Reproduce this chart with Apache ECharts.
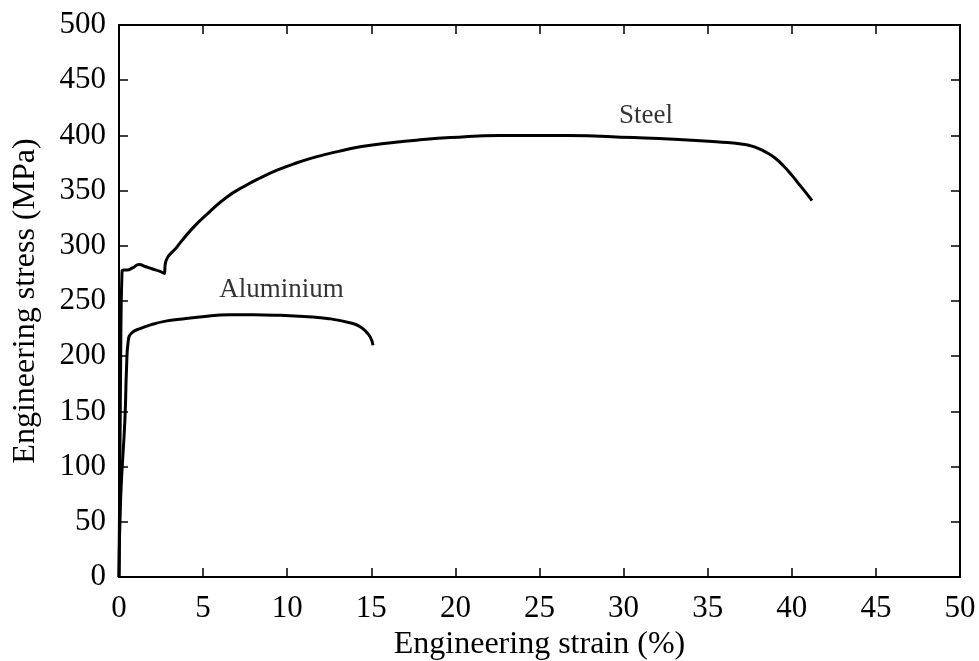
<!DOCTYPE html>
<html>
<head>
<meta charset="utf-8">
<script src="https://cdn.jsdelivr.net/npm/echarts@6/dist/echarts.min.js"></script>
<style>
  html, body { margin: 0; padding: 0; background: #fff; }
  #chart { width: 979px; height: 661px; }
</style>
</head>
<body>
<div id="chart"></div>
<script>
// 钢的应力-应变曲线 (strain %, stress MPa)
const steelStrain = [0, 0.1, 0.18, 0.3, 0.5, 0.8, 1.2, 1.6, 2.0, 2.4, 2.7, 2.75, 3.5, 4.42, 5.4, 6.4, 7.4, 8.38, 9.4, 10.36, 11.35, 12.35, 13.35, 14.33, 16.3, 17.9, 19.7, 22.65, 26.6, 30.6, 33.0, 35.5, 36.5, 37.0, 37.5, 38.0, 38.5, 39.0, 39.5, 40.0, 40.5, 41.0, 41.2];
const steelStress = [0, 200, 277, 278, 278, 280, 283, 281, 279, 277, 275, 283.6, 300, 316.7, 331, 344, 353.5, 361.4, 368.5, 374, 379, 383, 386.5, 389.7, 393.6, 396, 398, 400, 400, 398, 396.5, 394.2, 393.2, 392.3, 390.8, 388.3, 384.5, 379.5, 372.5, 364, 354.5, 345, 341];

// 铝的应力-应变曲线
const aluStrain = [0, 0.1, 0.35, 0.45, 0.55, 0.75, 1.25, 2.0, 2.85, 3.6, 4.8, 6.6, 8.0, 9.6, 11.0, 12.5, 13.9, 14.4, 14.7, 14.95, 15.1];
const aluStress = [0, 72, 142, 190, 214, 221, 225, 229, 232, 233.5, 235.5, 237.5, 237.5, 237, 236, 234, 229.6, 226, 222, 217, 210];

// 曲线标注
const labelNames = ['Steel', 'Aluminium'];
const labelStrain = [31.33, 9.66];
const labelStress = [418, 260];

// 坐标轴刻度
const xTicks = [0, 5, 10, 15, 20, 25, 30, 35, 40, 45, 50];
const yTicks = [0, 50, 100, 150, 200, 250, 300, 350, 400, 450, 500];

const font = '"Liberation Serif", "DejaVu Serif", serif';

function pairs(xs, ys) {
    return xs.map(function (x, i) { return [x, ys[i]]; });
}

const chart = echarts.init(document.getElementById('chart'));

const axisLineStyle = { color: '#000', width: 2 };
const tickStyle = { color: '#000', width: 1.5 };

// 坐标轴公共配置
function axis(extra) {
    return Object.assign({
        type: 'value',
        axisLine: { show: true, onZero: false, lineStyle: axisLineStyle },
        axisTick: { show: true, inside: true, length: 9, lineStyle: tickStyle },
        splitLine: { show: false }
    }, extra);
}

const chartOption = {
    animation: false,
    grid: {
        left: 119,
        top: 25,
        right: 19,
        bottom: 84,
        containLabel: false,
        outerBoundsMode: 'none'
    },
    xAxis: [
        axis({
            min: xTicks[0],
            max: xTicks[xTicks.length - 1],
            interval: 5,
            name: 'Engineering strain (%)',
            nameLocation: 'middle',
            nameGap: 52,
            nameTextStyle: { fontFamily: font, fontSize: 32, color: '#000' },
            axisLabel: { fontFamily: font, fontSize: 31, color: '#000', margin: 16 }
        }),
        axis({
            position: 'top',
            min: xTicks[0],
            max: xTicks[xTicks.length - 1],
            interval: 5,
            axisLabel: { show: false }
        })
    ],
    yAxis: [
        axis({
            min: yTicks[0],
            max: yTicks[yTicks.length - 1],
            interval: 50,
            name: 'Engineering stress (MPa)',
            nameLocation: 'middle',
            nameGap: 77,
            nameTextStyle: { fontFamily: font, fontSize: 32, color: '#000' },
            axisLabel: { fontFamily: font, fontSize: 31, color: '#000', margin: 13, padding: [12, 0, 0, 0] }
        }),
        axis({
            position: 'right',
            min: yTicks[0],
            max: yTicks[yTicks.length - 1],
            interval: 50,
            axisLabel: { show: false }
        })
    ],
    series: [
        {
            name: 'Steel',
            type: 'line',
            data: pairs(steelStrain, steelStress),
            showSymbol: false,
            smooth: 0.5,
            lineStyle: { color: '#000', width: 3 }
        },
        {
            name: 'Aluminium',
            type: 'line',
            data: pairs(aluStrain, aluStress),
            showSymbol: false,
            smooth: 0.5,
            lineStyle: { color: '#000', width: 3 }
        },
        {
            type: 'scatter',
            symbolSize: 0,
            silent: true,
            data: labelNames.map(function (n, i) {
                return { name: n, value: [labelStrain[i], labelStress[i]] };
            }),
            label: {
                show: true,
                position: 'inside',
                formatter: '{b}',
                fontFamily: font,
                fontSize: 27,
                color: '#000'
            }
        }
    ]
};
chart.setOption(chartOption);
</script>
</body>
</html>
